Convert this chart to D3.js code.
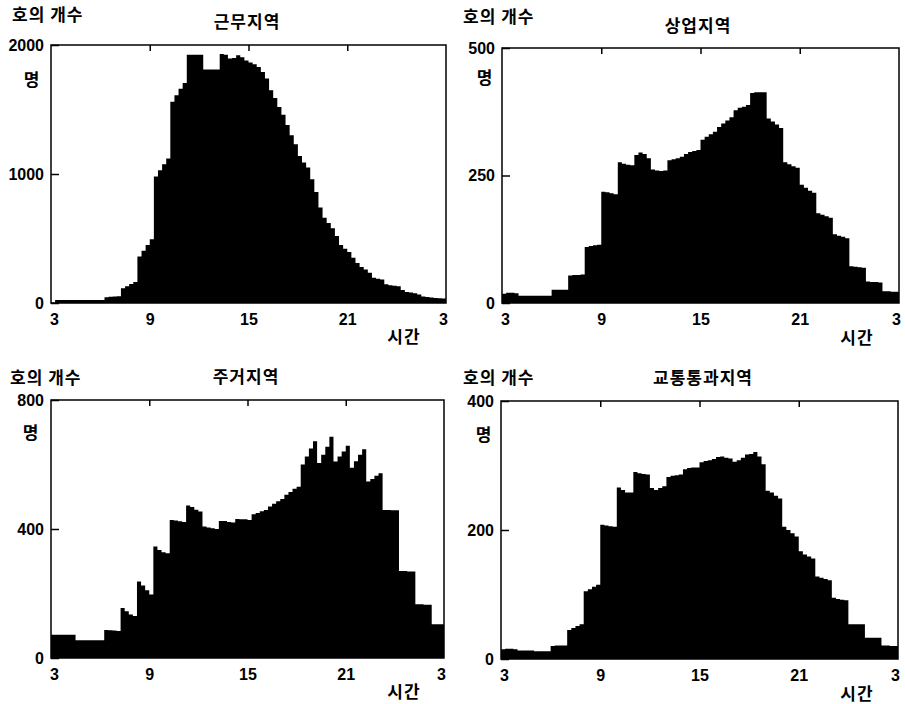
<!DOCTYPE html>
<html>
<head>
<meta charset="utf-8">
<script src="https://cdn.jsdelivr.net/npm/d3@7"></script>
<style>
  body { margin: 0; background: #fff; }
  .num { font-family: "Liberation Sans", Arial, sans-serif; font-weight: bold; font-size: 16px; fill: #000; }
  .kr { font-family: "Noto Sans CJK KR", sans-serif; font-size: 17px; font-weight: bold; letter-spacing: 1px; fill: #000; }
</style>
</head>
<body>
<svg id="chart" width="905" height="704"></svg>
<script>
// panel titles and y-axis maxima
const titles = ["근무지역", "상업지역", "주거지역", "교통통과지역"];
const yMax = [2000, 500, 800, 400];
const xTicks = [3, 9, 15, 21, 27];
const xTickLabels = ["3", "9", "15", "21", "3"];

// 15-minute bins from 03:00 to 02:45 next day (one row per hour)
const work = [
  0, 23, 23, 23,   23, 23, 23, 23,   23, 23, 23, 23,   23, 45, 48, 50,
  52, 115, 130, 148,   162, 360, 405, 450,   495, 980, 1030, 1075,   1120, 1560, 1610, 1660,
  1705, 1925, 1925, 1925,   1925, 1810, 1810, 1810,   1810, 1930, 1925, 1895,   1900, 1920, 1905, 1880,
  1865, 1850, 1830, 1790,   1740, 1650, 1590, 1520,   1460, 1380, 1300, 1230,   1140, 1090, 1050, 960,
  860, 740, 660, 620,   580, 520, 450, 420,   395, 350, 310, 280,   260, 235, 195, 188,
  182, 145, 138, 134,   130, 100, 86, 82,   76, 65, 50, 46,   42, 38, 36, 34
];
const commercial = [
  18, 20, 20, 19,   14, 14, 14, 14,   14, 14, 14, 14,   26, 26, 26, 26,
  54, 55, 55, 56,   110, 112, 113, 114,   218, 217, 215, 213,   276, 273, 271, 270,
  290, 295, 292, 284,   262, 260, 259, 260,   280, 282, 284, 287,   292, 296, 298, 300,
  320, 326, 331, 336,   345, 352, 358, 364,   378, 383, 385, 388,   412, 413, 413, 413,
  362, 356, 350, 343,   276, 272, 268, 265,   232, 226, 220, 216,   176, 173, 170, 167,
  135, 132, 130, 127,   72, 71, 70, 69,   42, 41, 41, 40,   23, 23, 22, 22
];
const residential = [
  72, 72, 72, 72,   72, 72, 55, 55,   55, 55, 55, 55,   55, 87, 86, 85,
  84, 155, 145, 135,   130, 237, 225, 210,   197, 346, 335, 328,   325, 428, 426, 424,
  422, 473, 468, 460,   454, 408, 405, 402,   400, 425, 425, 422,   420, 431, 430, 430,
  428, 446, 450, 455,   459, 470, 478, 486,   493, 506, 515, 525,   531, 600, 625, 650,
  672, 605, 630, 655,   686, 609, 625, 640,   658, 590, 610, 630,   647, 547, 555, 565,
  573, 459, 459, 458,   458, 270, 270, 268,   268, 167, 167, 165,   165, 105, 105, 105
];
const traffic = [
  15, 16, 16, 15,   13, 13, 13, 13,   12, 12, 12, 12,   20, 21, 21, 21,
  45, 48, 51, 54,   105, 108, 112, 115,   208, 207, 206, 205,   266, 262, 258, 258,
  290, 288, 287, 286,   265, 262, 265, 268,   282, 284, 285, 286,   294, 296, 297, 297,
  305, 307, 308, 310,   313, 314, 312, 311,   306, 308, 312, 317,   318, 321, 314, 302,
  261, 258, 253, 249,   205, 200, 195, 190,   167, 162, 159, 156,   128, 126, 124, 122,
  95, 93, 92, 91,   54, 54, 54, 54,   33, 33, 33, 33,   21, 21, 20, 20
];
const series = [work, commercial, residential, traffic];
const binStart = d3.range(3, 27, 0.25);

// frame boxes and text anchors for each panel
const panels = [
  { x0: 51,  x1: 446, y0: 45,  y1: 303, cnt: [12, 15],  title: [247, 22],  unit: [32, 80],   time: [404, 337] },
  { x0: 502, x1: 899, y0: 48,  y1: 303, cnt: [463, 17], title: [698, 26],  unit: [485, 78],  time: [857, 338] },
  { x0: 51,  x1: 444, y0: 400, y1: 658, cnt: [10, 378], title: [246, 377], unit: [31, 433],  time: [404, 692] },
  { x0: 501, x1: 898, y0: 401, y1: 659, cnt: [463, 378], title: [703, 378], unit: [484, 435], time: [857, 694] }
];

const svg = d3.select("#chart");

panels.forEach((p, i) => {
  const g = svg.append("g");
  const x = d3.scaleLinear().domain([3, 27]).range([p.x0, p.x1]);
  const y = d3.scaleLinear().domain([0, yMax[i]]).range([p.y1, p.y0]);

  const vals = series[i];
  const pts = binStart.map((h, j) => [h, vals[j]]);
  pts.push([27, vals[vals.length - 1]]);

  const area = d3.area()
    .curve(d3.curveStepAfter)
    .x(d => x(d[0]))
    .y0(y(0))
    .y1(d => y(d[1]));

  g.append("path")
    .datum(pts)
    .attr("d", area)
    .attr("fill", "#000");

  // frame
  g.append("rect")
    .attr("x", p.x0).attr("y", p.y0)
    .attr("width", p.x1 - p.x0).attr("height", p.y1 - p.y0)
    .attr("fill", "none").attr("stroke", "#000").attr("stroke-width", 1.5);

  // inward ticks on top edge
  g.append("g")
    .attr("transform", `translate(0,${p.y0})`)
    .call(d3.axisTop(x).tickValues([9, 15, 21]).tickSize(-6).tickFormat(""))
    .call(a => a.select(".domain").remove())
    .selectAll("line").attr("stroke-width", 1.5);

  // x tick labels
  const xb = g.append("g")
    .attr("transform", `translate(0,${p.y1})`)
    .call(d3.axisBottom(x).tickValues(xTicks).tickSize(0).tickPadding(11)
      .tickFormat((d, k) => xTickLabels[k]));
  xb.select(".domain").remove();
  xb.selectAll("text").attr("class", "num").attr("font-family", null).attr("font-size", null);
  xb.selectAll("text").filter(d => d === 3).attr("x", 3);
  xb.selectAll("text").filter(d => d === 27).attr("x", -3);

  // y ticks: inward mark at the middle value, labels at 0, mid, max
  const yl = g.append("g")
    .attr("transform", `translate(${p.x0},0)`)
    .call(d3.axisLeft(y).tickValues([0, yMax[i] / 2, yMax[i]]).tickSize(-8).tickPadding(7)
      .tickFormat(d3.format("d")));
  yl.select(".domain").remove();
  yl.selectAll("line").attr("stroke-width", 1.5);
  yl.selectAll("text").attr("class", "num").attr("font-family", null).attr("font-size", null);

  // korean labels
  g.append("text").attr("class", "kr").attr("x", p.cnt[0]).attr("y", p.cnt[1])
    .attr("dy", "0.35em").text("호의 개수");
  g.append("text").attr("class", "kr").attr("x", p.title[0]).attr("y", p.title[1])
    .attr("dy", "0.35em").attr("text-anchor", "middle").text(titles[i]);
  g.append("text").attr("class", "kr").attr("x", p.unit[0]).attr("y", p.unit[1])
    .attr("dy", "0.35em").attr("text-anchor", "middle").text("명");
  g.append("text").attr("class", "kr").attr("x", p.time[0]).attr("y", p.time[1])
    .attr("dy", "0.35em").attr("text-anchor", "middle").text("시간");
});
</script>
</body>
</html>
